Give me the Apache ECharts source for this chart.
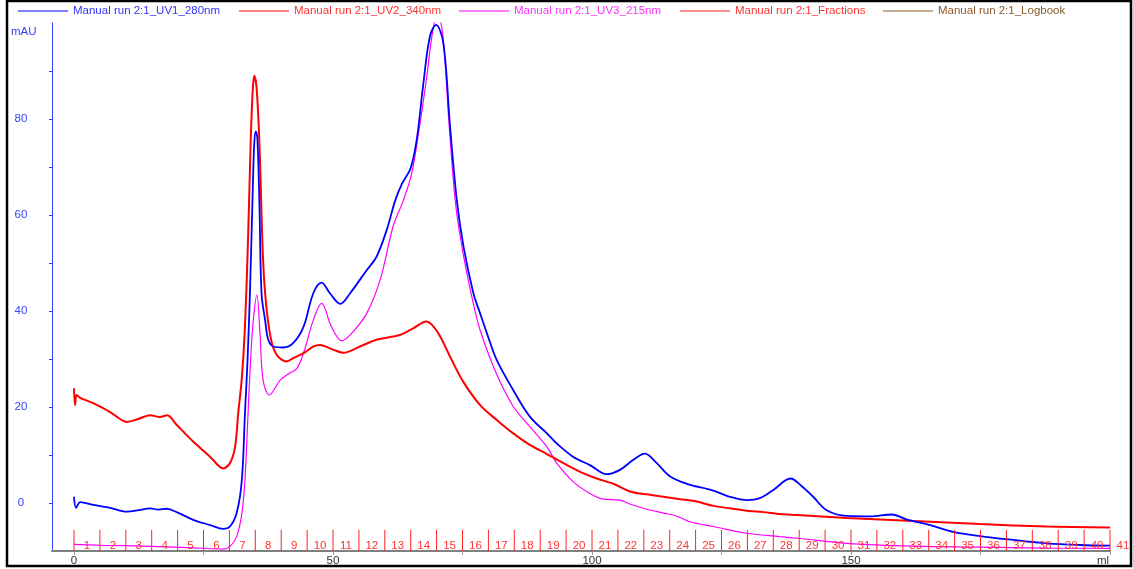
<!DOCTYPE html>
<html>
<head>
<meta charset="utf-8">
<script src="https://cdn.jsdelivr.net/npm/echarts@6/dist/echarts.min.js"></script>
<style>
  html, body { margin: 0; padding: 0; background: #fff; }
  #chart { width: 1133px; height: 569px; }
</style>
</head>
<body>
<div id="chart"></div>
<script>
// Chromatogram traces: [volume (ml), absorbance (mAU)]
const uv1_280nm = [
  [0, 1.3], [0.4, -1.0], [1.2, 0.2], [3.7, -0.4], [7, -1.0], [10.2, -1.8], [12.5, -1.5],
  [14.7, -1.1], [16.3, -1.4], [17.9, -1.2], [20, -2.0], [23, -3.5], [26.3, -4.6], [28.8, -5.4],
  [30.1, -4.9], [31.4, -2.1], [32.4, 4.8], [33, 18.7], [33.5, 29.8], [34.0, 45], [34.5, 65],
  [34.8, 75], [35.1, 77.4], [35.4, 76], [35.8, 62], [36.2, 43.7], [36.9, 38], [37.5, 34],
  [38.5, 32.6], [40.4, 32.4], [42.3, 33.3], [44.3, 36.7], [46.2, 43.7], [47.8, 45.9], [49.4, 43.7],
  [51.4, 41.5], [53.3, 43.7], [56.5, 48.5], [58.4, 51.3], [60.4, 57], [62, 63], [63.3, 66.5],
  [65, 69.8], [66.2, 76], [67.4, 87], [68.7, 97.2], [69.9, 99.6], [71.3, 95.8], [72.6, 78.4],
  [73.9, 63.1], [75.2, 53.4], [77.1, 43.7], [78.4, 39.5], [79.7, 35.4], [81.6, 29.8], [84.8, 23.5],
  [88, 18], [91.3, 14.5], [93.2, 12.4], [96.4, 9.6], [99.6, 7.9], [102.8, 6.0], [105.4, 6.9],
  [108, 9], [110.2, 10.3], [112.5, 8.3], [115.1, 5.5], [118.3, 4.0], [123.4, 2.6], [126.6, 1.3],
  [129.9, 0.6], [132.4, 1.0], [135, 2.7], [138.3, 5.1], [140.5, 3.5], [142.7, 1.3], [145.3, -1.5],
  [149.2, -2.7], [153.7, -2.8], [157.9, -2.4], [160.7, -3.4], [165.3, -4.6], [169.7, -6],
  [174.9, -6.9], [181.3, -7.7], [187.8, -8.4], [194.2, -8.75], [200, -8.9]
];

const uv2_340nm = [
  [0, 23.9], [0.2, 20.4], [0.5, 22.5], [1.2, 21.9], [3.7, 20.8], [6.9, 19], [10.2, 16.9],
  [12.1, 17.4], [14.7, 18.3], [16.6, 17.9], [18, 18.3], [19.8, 16.3], [23, 12.8], [26.3, 9.6],
  [28.8, 7.2], [30.1, 8.3], [31.1, 11.7], [31.7, 18.7], [32.4, 26], [33, 36.7], [33.6, 55],
  [34.1, 75], [34.5, 86], [34.8, 89], [35.2, 87], [35.6, 80], [35.9, 71.5], [36.5, 50.6],
  [37.2, 40.2], [38.2, 33.3], [39.4, 30.5], [41, 29.5], [42.5, 30.3], [44.3, 31.2], [46.2, 32.6],
  [47.5, 32.9], [50.1, 31.9], [52, 31.3], [55.2, 32.6], [58.4, 34], [62.9, 35], [65.5, 36.4],
  [68, 37.8], [69.2, 37.0], [70.7, 34.7], [72.6, 30.5], [75, 25.5], [78.4, 20.4], [81.6, 17.3],
  [84.8, 14.5], [88, 12.1], [91.3, 10.2], [94.5, 8.3], [97.7, 6.5], [100.9, 5.1], [104.1, 4.0],
  [107.3, 2.4], [110.6, 1.8], [113.8, 1.3], [117, 0.8], [120.2, 0.3], [123.4, -0.6], [126.6, -1.1],
  [129.9, -1.6], [133.1, -1.9], [136.3, -2.3], [139.5, -2.5], [149.2, -3.1], [162, -3.75],
  [174.9, -4.4], [187.8, -4.9], [200, -5.1]
];

const uv3_215nm = [
  [0, -8.6], [5, -8.8], [10, -8.9], [16.6, -9.1], [22, -9.3], [28.8, -9.6], [30.1, -9.1],
  [31.4, -7.0], [32.4, -2.2], [33, 4.8], [33.6, 18.7], [34.1, 30], [34.6, 38], [35.3, 43.3],
  [35.9, 35.4], [36.5, 25.6], [37.7, 22.5], [39.8, 25.6], [41.5, 27], [43, 28], [44.3, 31.2],
  [46.2, 38.1], [47.8, 41.6], [49.7, 36.7], [51.7, 33.8], [53.9, 35.7], [56.5, 39.5], [59.1, 46.5],
  [61.6, 57.6], [63.6, 63.1], [65.2, 68.7], [66.8, 79.1], [68.1, 88.8], [69.2, 98], [70.2, 102],
  [71.2, 97.5], [72.4, 79], [73.7, 62], [75.2, 51.5], [77, 42], [78.4, 36], [81.6, 26.8], [84.8, 20.1],
  [88, 15.9], [91.3, 11.7], [93.2, 8.3], [96.4, 4.4], [99.6, 2.0], [102.2, 0.8], [105.4, 0.6],
  [107.3, -0.2], [110.6, -1.3], [113.8, -2.1], [116.3, -2.7], [118.9, -3.9], [123.4, -4.9],
  [129.9, -6.3], [136.3, -7.0], [140.2, -7.4], [149.2, -8.4], [162, -9], [174.9, -9.2],
  [187.8, -9.4], [200, -9.45]
];

// Fraction collection boundaries (ml) and their numbers
const fractionBounds = [0, 5, 10, 15, 20, 25, 30, 35, 40, 45, 50, 55, 60, 65, 70, 75, 80, 85, 90, 95,
  100, 105, 110, 115, 120, 125, 130, 135, 140, 145, 150, 155, 160, 165, 170, 175, 180, 185, 190, 195, 200];
const fractionLabels = ['1', '2', '3', '4', '5', '6', '7', '8', '9', '10', '11', '12', '13', '14', '15',
  '16', '17', '18', '19', '20', '21', '22', '23', '24', '25', '26', '27', '28', '29', '30', '31', '32',
  '33', '34', '35', '36', '37', '38', '39', '40', '41'];

// Axis ticks and labels
const yTickValues = [0, 10, 20, 30, 40, 50, 60, 70, 80, 90];
const yLabelValues = [0, 20, 40, 60, 80];
const xTickValues = [0, 25, 50, 75, 100, 125, 150, 175, 200];
const xLabelValues = [0, 50, 100, 150, 200];

const seriesNames = ['Manual run 2:1_UV1_280nm', 'Manual run 2:1_UV2_340nm', 'Manual run 2:1_UV3_215nm',
  'Manual run 2:1_Fractions', 'Manual run 2:1_Logbook'];
const lineColors = ['#0000ff', '#ff0000', '#ff00ff', '#ff2020', '#8a5a2a'];
const textColors = ['#3333ff', '#ff3333', '#ff33ff', '#ff3333', '#8b5a2b'];
const legendLeft = [18, 239, 459, 680, 883];

const FONT = 'Liberation Sans, Arial, sans-serif';
const FRACTION_TOP = -5.6;
const FRACTION_LABEL_Y = -8.9;

const chart = echarts.init(document.getElementById('chart'), null, { renderer: 'canvas' });

const option = {
  animation: false,
  backgroundColor: '#ffffff',
  grid: { left: 52, top: 23, width: 1058, height: 528, containLabel: false },
  legend: seriesNames.map((name, i) => ({
    data: [{ name: name, icon: 'rect' }],
    left: legendLeft[i],
    top: 4,
    padding: 0,
    itemWidth: 50,
    itemHeight: 1,
    selectedMode: false,
    textStyle: { color: textColors[i], fontSize: 11.5, fontFamily: FONT, lineHeight: 14 }
  })),
  xAxis: {
    type: 'value',
    min: -4.25,
    max: 200,
    axisLine: { show: true, onZero: false, lineStyle: { color: '#808080', width: 2 } },
    axisTick: { show: true, length: 4, lineStyle: { color: '#9a9a9a' }, customValues: xTickValues },
    axisLabel: {
      customValues: xLabelValues,
      color: '#333',
      fontSize: 11.5,
      fontFamily: FONT,
      margin: 4,
      formatter: v => (v === 200 ? '{ml|ml}' : String(v)),
      rich: { ml: { padding: [0, 14, 0, 0], fontSize: 11.5, fontFamily: FONT, color: '#333' } }
    },
    splitLine: { show: false }
  },
  yAxis: {
    type: 'value',
    min: -10,
    max: 100,
    axisLine: { show: true, onZero: false, lineStyle: { color: '#3344ff', width: 1 } },
    axisTick: { show: true, length: 3, lineStyle: { color: '#3344ff' }, customValues: yTickValues },
    axisLabel: {
      customValues: yLabelValues,
      color: '#3344ff',
      fontSize: 11.5,
      fontFamily: FONT,
      align: 'center',
      margin: 31
    },
    splitLine: { show: false }
  },
  graphic: [
    {
      type: 'rect',
      shape: { x: 7, y: 1, width: 1124, height: 565 },
      style: { fill: 'none', stroke: '#000', lineWidth: 2.5 },
      z: 100
    },
    {
      type: 'text',
      left: 11,
      top: 26,
      style: { text: 'mAU', fill: '#3344ff', font: '11.5px ' + FONT }
    }
  ],
  series: [
    {
      name: seriesNames[2], type: 'line', data: uv3_215nm, showSymbol: false, smooth: 0.35,
      color: lineColors[2], lineStyle: { width: 1.2, color: lineColors[2] }, z: 2
    },
    {
      name: seriesNames[1], type: 'line', data: uv2_340nm, showSymbol: false, smooth: 0.3,
      color: lineColors[1], lineStyle: { width: 2, color: lineColors[1] }, z: 3
    },
    {
      name: seriesNames[0], type: 'line', data: uv1_280nm, showSymbol: false, smooth: 0.35,
      color: lineColors[0], lineStyle: { width: 1.8, color: lineColors[0] }, z: 4
    },
    {
      name: seriesNames[3],
      type: 'custom',
      color: lineColors[3],
      data: fractionBounds.map(b => [b, -10]),
      encode: { x: 0, y: 1 },
      z: 5,
      renderItem: (params, api) => {
        const i = params.dataIndex;
        const x = api.value(0);
        const next = i + 1 < fractionBounds.length ? fractionBounds[i + 1] : 2 * x - fractionBounds[i - 1];
        const pBottom = api.coord([x, -10]);
        const pTop = api.coord([x, FRACTION_TOP]);
        const pLabel = api.coord([(x + next) / 2, FRACTION_LABEL_Y]);
        return {
          type: 'group',
          children: [
            {
              type: 'line',
              shape: { x1: pBottom[0], y1: pBottom[1], x2: pTop[0], y2: pTop[1] },
              style: { stroke: lineColors[3], lineWidth: 1 }
            },
            {
              type: 'text',
              x: pLabel[0],
              y: pLabel[1],
              style: {
                text: fractionLabels[i], fill: textColors[3], font: '11.5px ' + FONT,
                align: 'center', verticalAlign: 'middle'
              }
            }
          ]
        };
      }
    },
    {
      name: seriesNames[4], type: 'line', data: [], showSymbol: false,
      color: lineColors[4], lineStyle: { width: 1, color: lineColors[4] }
    }
  ]
};

chart.setOption(option);
</script>
</body>
</html>
